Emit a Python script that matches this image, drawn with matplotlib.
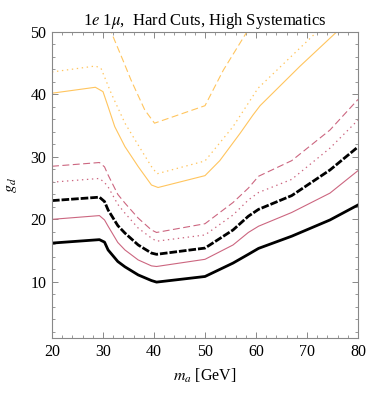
import matplotlib
matplotlib.use("Agg")
import matplotlib.pyplot as plt
from matplotlib.ticker import MultipleLocator

plt.rcParams['font.family'] = ['Liberation Serif', 'DejaVu Serif']
plt.rcParams['mathtext.fontset'] = 'stix'
plt.rcParams['lines.scale_dashes'] = False

# ---- data ----
x_low = [20, 29.3, 30.3, 31.0, 32.9, 34.3, 36.9, 39.5, 40.5, 50, 55.5, 58.5, 60.5, 67, 74.5, 80]
black_solid = [16.2, 16.75, 16.35, 15.1, 13.25, 12.4, 11.1, 10.2, 9.95, 10.85, 13.0, 14.4, 15.35, 17.3, 19.9, 22.3]
black_dashed = [23.0, 23.55, 22.85, 21.5, 19.0, 17.8, 15.9, 14.6, 14.4, 15.4, 18.3, 20.5, 21.6, 23.8, 27.9, 31.6]
pink_solid = [20.0, 20.6, 19.9, 18.9, 16.3, 15.1, 13.5, 12.55, 12.45, 13.6, 15.9, 17.9, 18.9, 21.1, 24.2, 27.8]
pink_dotted = [25.95, 26.55, 25.9, 25.2, 22.4, 21.0, 18.6, 17.0, 16.5, 17.5, 20.7, 23.1, 24.3, 26.4, 31.4, 35.9]
pink_dashed = [28.5, 29.1, 28.4, 27.1, 24.0, 22.6, 20.2, 18.3, 17.9, 19.3, 22.7, 25.0, 26.9, 29.4, 34.3, 39.2]

x_or_solid = [20, 28.5, 30, 31, 32.3, 34.3, 36.9, 39.5, 40.8, 50, 52.9, 56.9, 59.4, 60.8, 68.6, 75.8, 80]
or_solid = [40.2, 41.15, 40.45, 38.05, 34.85, 31.65, 28.45, 25.5, 25.1, 27.0, 29.4, 33.8, 36.7, 38.2, 44.5, 50.0, 53.5]

x_or_dotted = [20, 28.5, 29.6, 31.6, 34.3, 36.9, 39.5, 40.6, 50, 55.5, 60.4, 71.9, 80]
or_dotted = [43.6, 44.55, 44.2, 40.2, 35.4, 31.9, 28.45, 27.3, 29.35, 34.85, 41.0, 50.0, 56.0]

x_or_dashed = [30, 31.6, 33.9, 35.5, 38.2, 40.1, 50, 53.6, 58.2, 60]
or_dashed = [54.0, 50.0, 45.5, 42.3, 37.5, 35.4, 38.2, 43.9, 50.0, 53.0]

x_ticks = [20, 30, 40, 50, 60, 70, 80]
y_ticks = [10, 20, 30, 40, 50]

orange = '#FFC55E'
pink = '#CC6680'

fig = plt.figure(figsize=(3.74, 3.96), dpi=100)
ax = fig.add_axes([52/374, 58/396, 306/374, 306/396])

dash_long = (0, (5, 2.5))
dot = (0, (1, 2.6))

ax.plot(x_or_dashed, or_dashed, color=orange, lw=0.8, linestyle=dash_long)
ax.plot(x_or_dotted, or_dotted, color=orange, lw=0.9, linestyle=dot)
ax.plot(x_or_solid, or_solid, color=orange, lw=0.8)
ax.plot(x_low, pink_dashed, color=pink, lw=0.8, linestyle=dash_long)
ax.plot(x_low, pink_dotted, color=pink, lw=0.9, linestyle=dot)
ax.plot(x_low, pink_solid, color=pink, lw=0.8)
ax.plot(x_low, black_dashed, color='black', lw=2.0, linestyle=(0, (5.5, 1.4)))
ax.plot(x_low, black_solid, color='black', lw=2.0)

ax.set_xlim(20, 80)
ax.set_ylim(1, 50)
ax.set_xticks(x_ticks)
ax.set_yticks(y_ticks)
ax.xaxis.set_minor_locator(MultipleLocator(2))
ax.yaxis.set_minor_locator(MultipleLocator(2))
ax.tick_params(which='both', direction='in', top=True, right=True,
               color='#888888', labelsize=11.5, pad=4)
ax.tick_params(which='major', length=4.5, width=0.7)
ax.tick_params(which='minor', length=2.5, width=0.6)
for s in ax.spines.values():
    s.set_color('#888888')
    s.set_linewidth(0.8)

ax.set_xlabel(r'$m_a$ [GeV]', fontsize=11.5, labelpad=5)
ax.set_ylabel(r'$g_d$', fontsize=11.5, labelpad=8)
ax.set_title(r'1$e$ 1$\mu$,  Hard Cuts, High Systematics', fontsize=12, pad=5)

fig.savefig('out.png', dpi=100)
